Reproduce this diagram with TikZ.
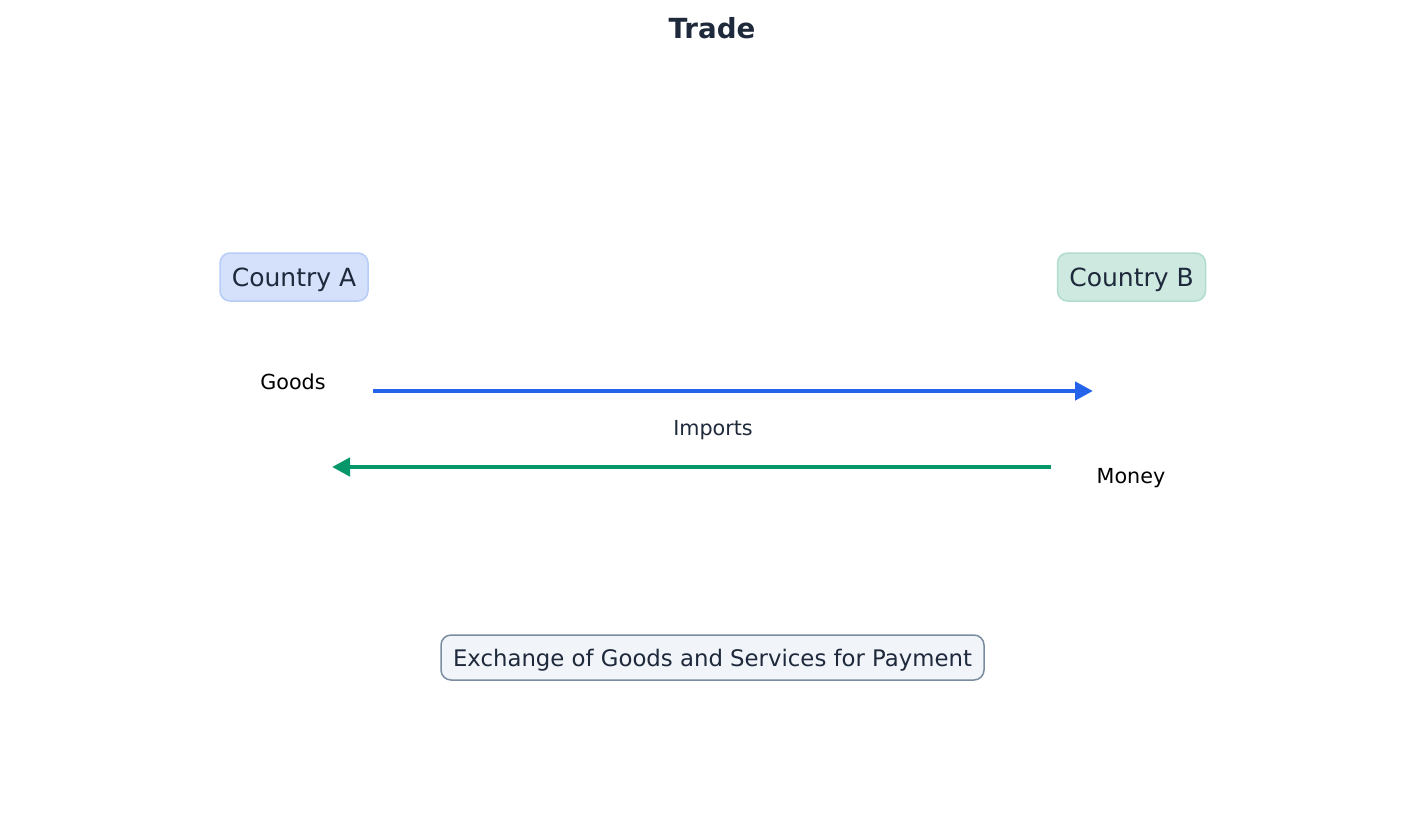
\documentclass[tikz,border=0pt]{standalone}
\usepackage{fontspec}
\setmainfont{DejaVu Sans}
\usetikzlibrary{arrows.meta}
\definecolor{txt}{HTML}{1E293B}
\definecolor{afill}{HTML}{D5E0FB}
\definecolor{aedge}{HTML}{B7CCF7}
\definecolor{bfill}{HTML}{CDE9E0}
\definecolor{bedge}{HTML}{B2DCCF}
\definecolor{sfill}{HTML}{F1F5F9}
\definecolor{sedge}{HTML}{7B8CA0}
\definecolor{goodsc}{HTML}{2563EB}
\definecolor{moneyc}{HTML}{059669}
\tikzset{
  country/.style={rounded corners=10pt, line width=1.5pt, minimum width=148pt, minimum height=48pt, text=txt, font=\fontsize{25}{30}\selectfont, inner sep=0pt, text height=24pt, text depth=5pt},
  lbl/.style={font=\fontsize{20.7}{25}\selectfont, inner sep=0pt},
  flow/.style={line width=4.5pt, -{Triangle[length=18pt,width=18pt]}},
}
\begin{document}
\begin{tikzpicture}[x=1pt,y=-1pt]
\useasboundingbox (0,0) rectangle (1425,825);
\node[font=\bfseries\fontsize{27.7}{33}\selectfont, text=txt] (title) at (712,28) {Trade};
\node[country, fill=afill, draw=aedge] (A) at (294,277) {Country A};
\node[country, fill=bfill, draw=bedge] (B) at (1131.5,277) {Country B};
\node[lbl] (goods) at (293,381.5) {Goods};
\node[lbl] (money) at (1131,478.5) {Money};
\node[lbl, text=txt] (imports) at (713,430.5) {Imports};
\coordinate (g1) at (373,391);
\coordinate (g2) at (1093,391);
\coordinate (m1) at (1051,467);
\coordinate (m2) at (332,467);
\draw[flow, draw=goodsc, fill=goodsc] (g1) -- (g2);
\draw[flow, draw=moneyc, fill=moneyc] (m1) -- (m2);
\node[rounded corners=10pt, line width=1.5pt, draw=sedge, fill=sfill, text=txt, minimum width=543pt, minimum height=45pt, inner sep=0pt, text height=22pt, text depth=5pt, font=\fontsize{22.8}{27}\selectfont] (summary) at (712.5,657.5) {Exchange of Goods and Services for Payment};
\end{tikzpicture}
\end{document}
